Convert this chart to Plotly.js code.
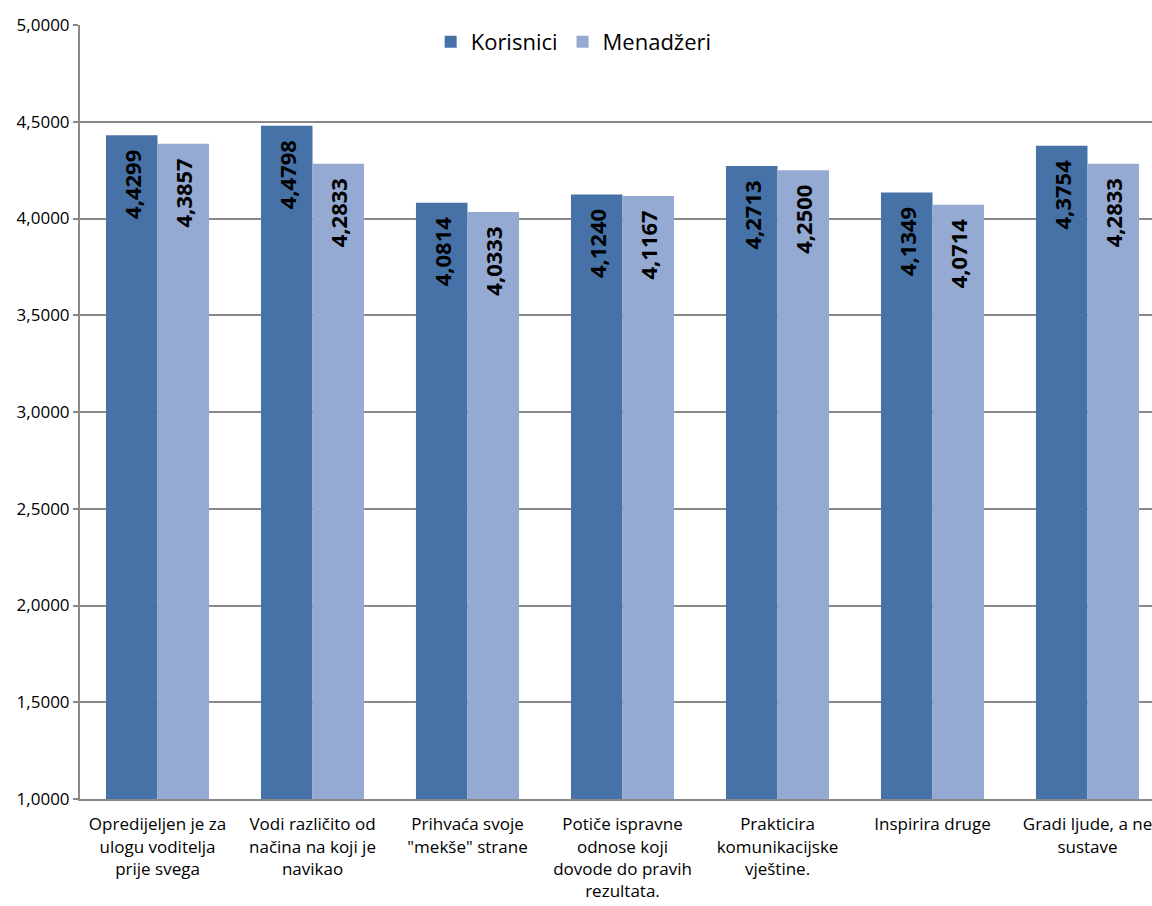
<!DOCTYPE html>
<html>
<head>
<meta charset="utf-8">
<script src="https://cdn.plot.ly/plotly-3.0.1.min.js"></script>
<style>
html,body{margin:0;padding:0;overflow:hidden;background:#fff;width:1152px;height:906px;}
#chart{width:1200px;height:906px;}
</style>
</head>
<body>
<div id="chart"></div>
<script>
const categories = [
  "Opredijeljen je za<br>ulogu voditelja<br>prije svega",
  "Vodi različito od<br>načina na koji je<br>navikao",
  "Prihvaća svoje<br>\"mekše\" strane",
  "Potiče ispravne<br>odnose koji<br>dovode do pravih<br>rezultata.",
  "Prakticira<br>komunikacijske<br>vještine.",
  "Inspirira druge",
  "Gradi ljude, a ne<br>sustave"
];
const korisnici = [4.4299, 4.4798, 4.0814, 4.1240, 4.2713, 4.1349, 4.3754];
const menadzeri = [4.3857, 4.2833, 4.0333, 4.1167, 4.2500, 4.0714, 4.2833];
const seriesNames = ["Korisnici", "Menadžeri"];
const yTicks = [1, 1.5, 2, 2.5, 3, 3.5, 4, 4.5, 5];

const FONT = "Open Sans, Lato, DejaVu Sans, sans-serif";
const labelFont = {family: FONT, size: 22, color: "#000", weight: "bold"};

function barTrace(name, values, color) {
  return {
    type: "bar",
    name: name,
    x: categories,
    y: values,
    marker: {color: color},
    texttemplate: "%{y:.4f}\u00a0\u00a0",
    textposition: "inside",
    insidetextanchor: "end",
    textangle: -90,
    constraintext: "none",
    textfont: labelFont,
    hoverinfo: "skip"
  };
}

const data = [
  barTrace(seriesNames[0], korisnici, "#4672A8"),
  barTrace(seriesNames[1], menadzeri, "#95AAD2")
];

const layout = {
  width: 1200,
  height: 906,
  margin: {l: 80, r: 35, t: 25, b: 107},
  paper_bgcolor: "#fff",
  plot_bgcolor: "#fff",
  separators: ",.",
  barmode: "group",
  bargap: 0.335,
  bargroupgap: 0,
  showlegend: true,
  legend: {
    orientation: "h",
    x: 0.455, xanchor: "center",
    y: 0.978, yanchor: "middle",
    font: {family: FONT, size: 22, color: "#000"},
    bgcolor: "rgba(0,0,0,0)"
  },
  xaxis: {
    type: "category",
    showgrid: false,
    showline: true,
    linecolor: "#898989",
    linewidth: 2,
    ticks: "outside",
    ticklen: 9,
    tickcolor: "rgba(0,0,0,0)",
    tickfont: {family: FONT, size: 17, color: "#000"},
    fixedrange: true
  },
  yaxis: {
    range: [1, 5],
    tickvals: yTicks,
    tickformat: ".4f",
    showgrid: true,
    gridcolor: "#898989",
    gridwidth: 2,
    showline: true,
    linecolor: "#898989",
    linewidth: 2,
    ticks: "outside",
    ticklen: 5,
    tickwidth: 2,
    tickcolor: "#898989",
    zeroline: false,
    tickfont: {family: FONT, size: 17, color: "#000"},
    fixedrange: true
  }
};

Plotly.newPlot("chart", data, layout, {displayModeBar: false, staticPlot: true});
</script>
</body>
</html>
